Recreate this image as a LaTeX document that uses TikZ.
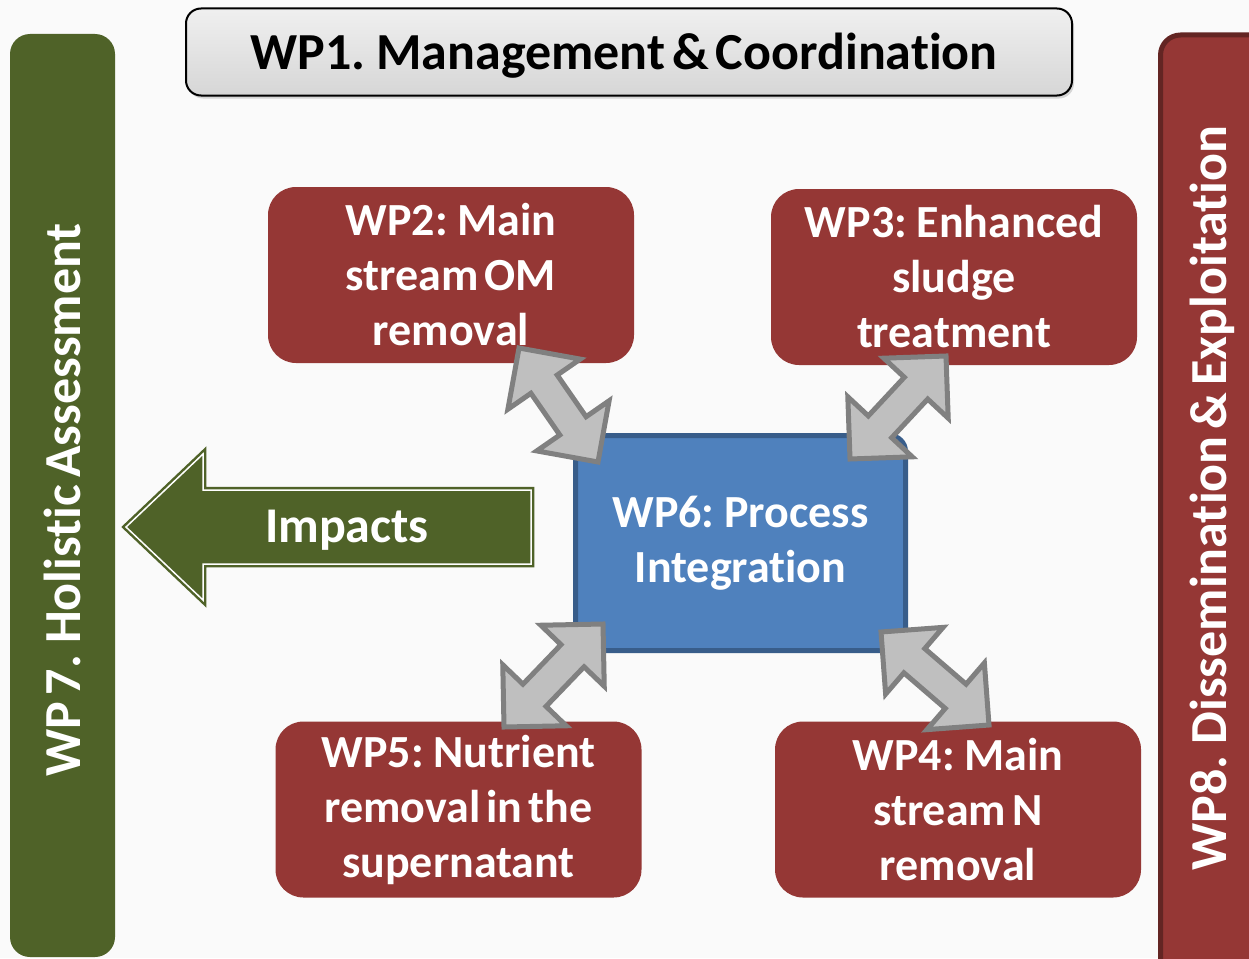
\documentclass[tikz,border=0pt]{standalone}
\usepackage{fontspec}
\setmainfont[Ligatures=NoCommon, WordSpace=0.6]{Carlito}
\usepackage{xcolor}
\usetikzlibrary{calc,shadows}

\definecolor{wpred}{RGB}{149,55,53}
\definecolor{wpredline}{RGB}{99,37,35}
\definecolor{wpblue}{RGB}{79,129,189}
\definecolor{wpblueline}{RGB}{56,93,138}
\definecolor{wpgreen}{RGB}{79,98,40}
\definecolor{linkfill}{RGB}{191,191,191}
\definecolor{linkline}{RGB}{128,128,128}
\definecolor{paper}{RGB}{250,250,250}

\tikzset{
  task/.style={fill=wpred, rounded corners=28pt, minimum width=366pt, minimum height=176pt,
    text=white, align=center, font=\fontsize{46}{55}\selectfont\bfseries},
  core/.style={task, fill=wpblue, draw=wpblueline, line width=5pt, rounded corners=16pt,
    minimum width=330pt, minimum height=215pt},
  link/.style={fill=linkfill, draw=linkline, line width=5pt, line join=miter},
  bar/.style={rounded corners=20pt},
  title/.style={text=white, font=\fontsize{52}{60}\selectfont\bfseries, rotate=90},
}

% fat double-headed arrow between two coordinates
\newcommand{\linkarrow}[2]{%
  \draw[link] (#1)
    -- ($(#1)!44pt!(#2)!44pt!90:(#2)$) -- ($(#1)!44pt!(#2)!16pt!90:(#2)$)
    -- ($(#2)!44pt!(#1)!16pt!-90:(#1)$) -- ($(#2)!44pt!(#1)!44pt!-90:(#1)$)
    -- (#2)
    -- ($(#2)!44pt!(#1)!44pt!90:(#1)$) -- ($(#2)!44pt!(#1)!16pt!90:(#1)$)
    -- ($(#1)!44pt!(#2)!16pt!-90:(#2)$) -- ($(#1)!44pt!(#2)!44pt!-90:(#2)$)
    -- cycle;}

\begin{document}
\begin{tikzpicture}[x=1pt, y=-1pt]
\fill[paper] (0,0) rectangle (1249,958);
\useasboundingbox (0,0) rectangle (1249,958);
\clip (0,0) rectangle (1249,958);

% side bars
\fill[wpgreen, bar] (10,34) rectangle (115,957);
\node[title] (wp7) at (62,500) {WP 7. Holistic Assessment};
\draw[fill=wpred, draw=wpredline, line width=5pt, bar] (1160.5,35) rectangle (1290,990);
\node[title] (wp8) at (1212,498) {WP8. Dissemination \& Exploitation};

% top box
\node[draw=black, line width=2pt, rounded corners=15pt, top color=gray!12, bottom color=gray!32,
  minimum width=886pt, minimum height=87pt,
  drop shadow={opacity=0.3, shadow xshift=2pt, shadow yshift=-3pt},
  font=\fontsize{52}{60}\selectfont\bfseries] (wp1) at (629,52) {};
\node[font=\fontsize{52}{60}\selectfont\bfseries] (wp1text) at (624,56) {WP1. Management \& Coordination};

% impacts arrow
\draw[fill=wpgreen, draw=wpgreen, double=white, double distance=1.5pt, line width=2.5pt, line join=miter]
  (126,527) -- (203,454) -- (203,490) -- (531,490) -- (531,564) -- (203,564) -- (203,600) -- cycle;
\node[text=white, font=\fontsize{50}{60}\selectfont\bfseries] (impacts) at (347,530) {Impacts};

% work packages
\node[task] (wp2) at (451,275) {WP2: Main\\stream OM\\removal};
\node[task] (wp3) at (954,277) {WP3: Enhanced\\sludge\\treatment};
\node[task] (wp5) at (458.5,809.5) {WP5: Nutrient\\removal in the\\supernatant};
\node[task] (wp4) at (958,809.5) {WP4: Main\\stream N\\removal};
\node[core] (wp6) at (740.5,543) {WP6: Process\\Integration};

% links to WP6
\coordinate (l2) at (519,348);  \coordinate (l6a) at (598,462);
\coordinate (l3) at (946,356);  \coordinate (l6b) at (850,459);
\coordinate (l6c) at (603,624); \coordinate (l5) at (504,727);
\coordinate (l6d) at (881,632); \coordinate (l4) at (989,725);

\linkarrow{l2}{l6a}
\linkarrow{l3}{l6b}
\linkarrow{l6c}{l5}
\linkarrow{l6d}{l4}
\end{tikzpicture}
\end{document}
